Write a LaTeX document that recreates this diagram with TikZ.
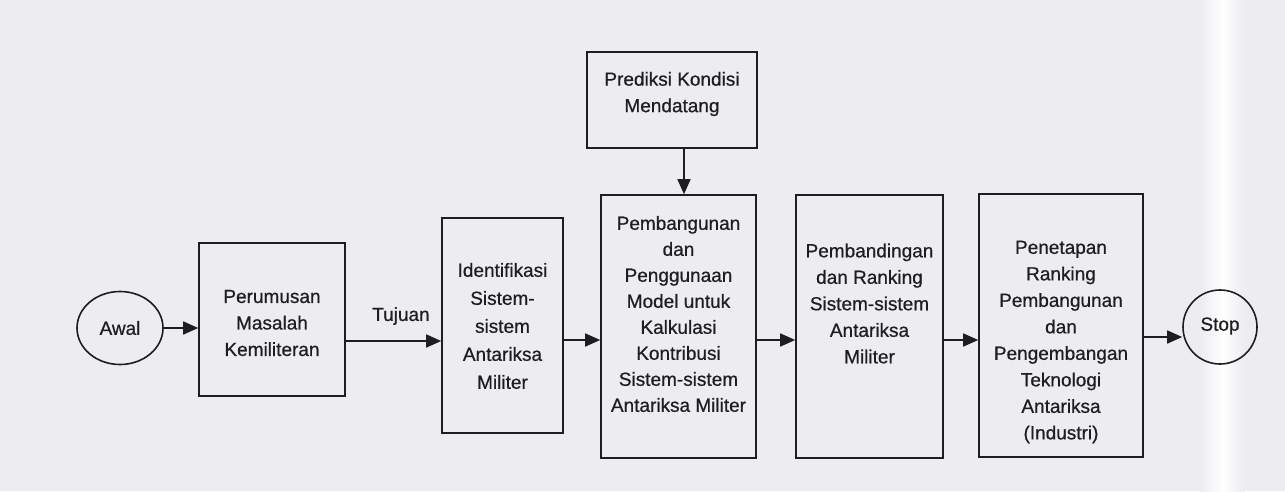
\documentclass[tikz,border=0pt]{standalone}
\usepackage{fontspec}
\setmainfont{Liberation Sans}[FakeBold=0.6]
\usetikzlibrary{arrows.meta,shapes.geometric}
\definecolor{bg}{RGB}{236,236,241}
\definecolor{ink}{RGB}{30,30,32}
\begin{document}
\begin{tikzpicture}[x=1pt,y=-1pt,
  every node/.style={font=\fontsize{19}{26.5}\selectfont, text=ink},
  boxshape/.style={draw=ink, line width=1.6pt, rectangle, inner sep=0pt},
  roundshape/.style={draw=ink, line width=1.6pt, ellipse, inner sep=0pt},
  txt/.style={align=center, inner sep=0pt},
  conn/.style={draw=ink, line width=1.6pt, -{Triangle[length=15pt,width=13pt]}}]
\useasboundingbox (0,0) rectangle (1285,491);
\fill[bg] (0,0) rectangle (1285,491);
\shade[left color=bg, right color=bg, middle color=white] (1200,0) rectangle (1245,491);
% shapes
\node[roundshape, minimum width=86pt, minimum height=73pt] (awal) at (120,328) {};
\node[txt] (awalt) at (120,328) {Awal};
\node[boxshape, minimum width=146pt, minimum height=153pt] (b1) at (272,319.5) {};
\node[txt] (b1t) at (272,323) {Perumusan\\Masalah\\Kemiliteran};
\node[boxshape, minimum width=121pt, minimum height=215pt] (b2) at (502.5,325.5) {};
\node[txt, font=\fontsize{19}{28}\selectfont] (b2t) at (502.5,326) {Identifikasi\\Sistem-\\sistem\\Antariksa\\Militer};
\node[boxshape, minimum width=170pt, minimum height=96pt] (pred) at (672,100) {};
\node[txt] (predt) at (672,94) {Prediksi Kondisi\\Mendatang};
\node[boxshape, minimum width=155pt, minimum height=263pt] (b3) at (678.5,326.5) {};
\node[txt, font=\fontsize{19}{26}\selectfont] (b3t) at (678.5,314) {Pembangunan\\dan\\Penggunaan\\Model untuk\\Kalkulasi\\Kontribusi\\Sistem-sistem\\Antariksa Militer};
\node[boxshape, minimum width=147pt, minimum height=263pt] (b4) at (869.5,326.5) {};
\node[txt] (b4t) at (869.5,303.5) {Pembandingan\\dan Ranking\\Sistem-sistem\\Antariksa\\Militer};
\node[boxshape, minimum width=164pt, minimum height=263pt] (b5) at (1061,325.5) {};
\node[txt] (b5t) at (1061,342) {Penetapan\\Ranking\\Pembangunan\\dan\\Pengembangan\\Teknologi\\Antariksa\\(Industri)};
\node[roundshape, circle, minimum size=74pt] (stop) at (1220,327) {};
\node[txt] (stopt) at (1220,326) {Stop};
\node[txt] (tuj) at (401,316) {Tujuan};
% helper coordinates
\coordinate (m1) at (0,341);
\coordinate (m2) at (0,340);
\coordinate (m3) at (0,337);
\coordinate (ax) at (684,0);
% connectors
\draw[conn] (awal.east) -- (b1.west |- awal.east);
\draw[conn] (b1.east |- m1) -- (b2.west |- m1);
\draw[conn] (b2.east |- m2) -- (b3.west |- m2);
\draw[conn] (b3.east |- m2) -- (b4.west |- m2);
\draw[conn] (b4.east |- m2) -- (b5.west |- m2);
\draw[conn] (b5.east |- m3) -- (stop.west |- m3);
\draw[conn] (pred.south -| ax) -- (b3.north -| ax);
\end{tikzpicture}
\end{document}
